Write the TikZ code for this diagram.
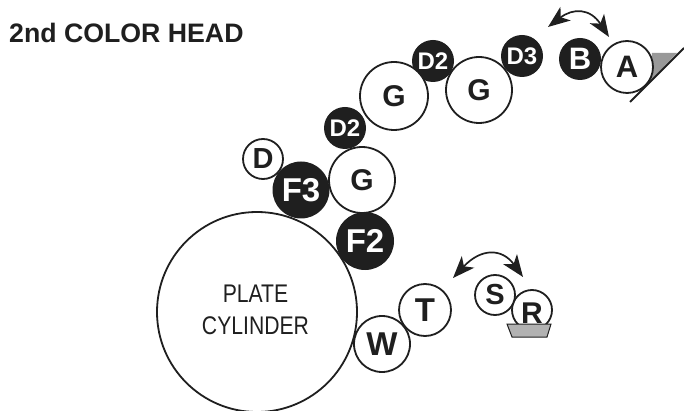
\documentclass[tikz,border=0pt]{standalone}
\usepackage{graphicx}
\usepackage{fontspec}
\setmainfont{Liberation Sans}
\usetikzlibrary{arrows.meta}
\definecolor{inkc}{gray}{0.12}
\tikzset{
  x=1pt,y=-1pt,
  ink/.style={draw=inkc,line width=1.8pt},
  fs/.style={font=\bfseries\fontsize{#1}{#1}\selectfont},
  roller/.style={circle,draw=inkc,line width=1.8pt,fill=white,inner sep=0pt,text=inkc},
  solidroller/.style={circle,fill=inkc,inner sep=0pt,text=white},
  swing/.style={draw=inkc,line width=1.7pt,{Stealth[length=22pt,width=17pt,inset=6pt]}-{Stealth[length=22pt,width=17pt,inset=6pt]}},
}
\begin{document}
\begin{tikzpicture}
\useasboundingbox (0,0) rectangle (684,411);
\begin{scope}
\clip (0,0) rectangle (684,411);
\node[roller,minimum size=200pt] (plate) at (257,312) {};
\end{scope}
\node[align=center,text=inkc,inner sep=0pt,font=\fontsize{25.5}{32}\selectfont] (platelabel) at (255.5,310) {\scalebox{.83}[1]{PLATE}\\\scalebox{.83}[1]{CYLINDER}};
\fill[black!40] (652,53) -- (677,53) -- (650,81) -- cycle;
\coordinate (doctorA) at (630,102);
\coordinate (doctorB) at (684,48);
\draw[ink] (doctorA) -- (doctorB);
\node[solidroller,minimum size=42pt,fs=24] (d3) at (522,56) {D3};
\node[roller,minimum size=66pt,fs=30] (g3) at (479,90) {G};
\node[solidroller,minimum size=42pt,fs=24] (d2b) at (433,61) {D2};
\node[roller,minimum size=68pt,fs=30] (g2) at (394,96) {G};
\node[solidroller,minimum size=42pt,fs=24] (d2a) at (345,128) {D2};
\node[solidroller,minimum size=58pt,fs=33] (f2) at (365,241) {F2};
\node[roller,minimum size=66pt,fs=30] (g1) at (362,180) {G};
\node[roller,minimum size=40pt,fs=29] (d) at (263,159) {D};
\node[solidroller,minimum size=57pt,fs=33] (f3) at (301,190) {F3};
\node[solidroller,minimum size=42pt,fs=31] (b) at (580,59) {B};
\node[roller,minimum size=52pt,fs=31] (a) at (627,67) {A};
\node[roller,minimum size=56pt,fs=33] (w) at (382,344) {W};
\node[roller,minimum size=52pt,fs=33] (t) at (425,310) {T};
\node[roller,minimum size=40pt] (r) at (532,310) {};
\node[roller,minimum size=40pt,fs=29] (s) at (495,295) {S};
\draw[ink,line width=1pt,fill=black!30] (507,324) -- (551,324) -- (547,337) -- (512,337) -- cycle;
\node[fs=30,text=inkc,inner sep=0pt] (rlabel) at (532,313) {R};
\coordinate (s1) at (548,27);
\coordinate (s2) at (609,37);
\coordinate (s3) at (453,278);
\coordinate (s4) at (523,277);
\draw[swing] (s1) .. controls (573,8) and (590,8) .. (s2);
\draw[swing] (s3) .. controls (481,248) and (502,248) .. (s4);
\node[anchor=base west,inner sep=0pt,fs=26.7,text=inkc] (title) at (9,43) {2nd COLOR HEAD};
\end{tikzpicture}
\end{document}
